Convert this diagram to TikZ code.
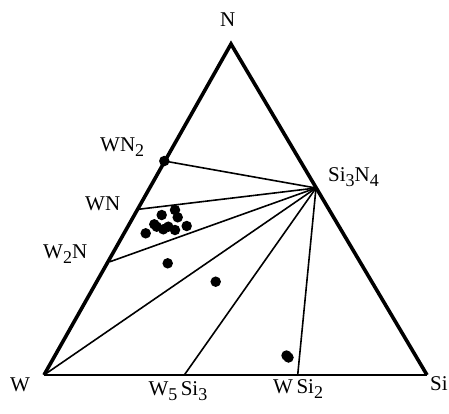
\documentclass[tikz,border=0pt]{standalone}
\usepackage{fontspec}
\setmainfont{Liberation Serif}
\newcommand{\lowsub}[1]{\raisebox{-5pt}{\fontsize{18}{21}\selectfont #1}}
\begin{document}
\begin{tikzpicture}[x=1pt, y=-1pt,
    every node/.style={font=\fontsize{21}{25}\selectfont, inner sep=0pt},
    side/.style={line width=3.6pt, line join=miter},
    tie/.style={line width=1.6pt},
    dot/.style={fill, circle, minimum size=10.5pt, inner sep=0pt}]
    \useasboundingbox (0,0) rectangle (449,413);
    % corners and compounds
    \coordinate (N) at (231,44);
    \coordinate (W) at (44,375);
    \coordinate (Si) at (427,375);
    \coordinate (SiN) at (316,188);
    \coordinate (WN2) at (164.3,161);
    \coordinate (WN) at (138.3,209.3);
    \coordinate (W2N) at (110,261.7);
    \coordinate (W5Si3) at (184.3,375);
    \coordinate (WSi2) at (297.7,375);
    % tie lines
    \foreach \c in {WN2,WN,W2N,W,W5Si3,WSi2}
        \draw[tie] (SiN) -- (\c);
    \draw[line width=2.2pt] (W) -- (Si);
    \draw[side] (Si) -- (N) -- (W);
    % labels
    \node[anchor=base west] (lN) at (220,26) {N};
    \node[anchor=base west] (lW) at (10,391.7) {W};
    \node[anchor=base west] (lSi) at (430,390) {Si};
    \node[anchor=base west] (lSiN) at (328,181.7) {Si\lowsub{3}N\lowsub{4}};
    \node[anchor=base west] (lWN2) at (100,151.7) {WN\lowsub{2}};
    \node[anchor=base west] (lWN) at (85,210) {WN};
    \node[anchor=base west] (lW2N) at (43,258) {W\lowsub{2}N};
    \node[anchor=base west] (lW5Si3) at (148.3,395) {W\lowsub{5}\,Si\lowsub{3}};
    \node[anchor=base west] (lWSi2) at (273,393) {W\,Si\lowsub{2}};
    % measured samples
    \foreach \p in {(164.3,161),(145.7,233.3),(154.3,224.3),(161.7,215),
        (156.7,226.7),(163.3,229.3),(168.3,226.7),(175,210),(177.7,217.3),
        (175,230),(186.7,226),(167.7,263.3),(215.7,281.7),(286.5,355.5),(288.5,357.5)}
        \node[dot] at \p {};
\end{tikzpicture}
\end{document}
